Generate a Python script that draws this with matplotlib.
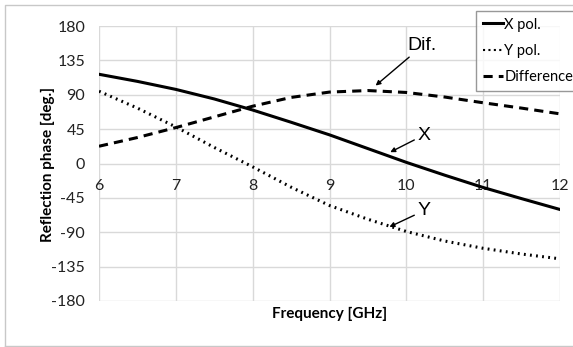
import matplotlib.pyplot as plt
from matplotlib.lines import Line2D

# values
freq = [6, 6.5, 7, 7.5, 8, 8.5, 9, 9.5, 10, 10.5, 11, 11.5, 12]
x_pol = [116.8, 107.5, 97, 84.5, 70, 54, 37.5, 19.5, 1.5, -15.3, -31.4, -46, -60.2]
y_pol = [94.6, 72.5, 47.9, 21, -4.4, -31, -55, -73, -89, -101.5, -111, -118.5, -124.8]
difference = [22.6, 34, 47, 61, 75, 86.5, 93.5, 95.5, 93, 87, 79.5, 72.5, 65]

yticks = [-180, -135, -90, -45, 0, 45, 90, 135, 180]
xticks = [6, 7, 8, 9, 10, 11, 12]

plt.rcParams['font.family'] = ['Lato', 'DejaVu Sans']
plt.rcParams['axes.unicode_minus'] = False

fig = plt.figure(figsize=(5.73, 3.47), dpi=100)
ax = fig.add_axes([99/573, 1-301/347, (560-99)/573, (301-26)/347])

ax.plot(freq, x_pol, color='black', lw=2.2, ls='-', label='X pol.')
ax.plot(freq, y_pol, color='black', lw=2.2, ls=(0, (0.6, 1.4)), label='Y pol.')
ax.plot(freq, difference, color='black', lw=2.2, ls=(0, (3, 2)), label='Difference')

ax.set_xlim(6, 12)
ax.set_ylim(-180, 180)
ax.set_xticks(xticks)
ax.set_yticks(yticks)
ax.grid(True, color='#d9d9d9', lw=1)
ax.set_axisbelow(True)
for s in ['top', 'right', 'left']:
    ax.spines[s].set_visible(False)
ax.spines['bottom'].set_position(('data', 0))
ax.spines['bottom'].set_visible(False)
ax.tick_params(axis='both', length=0, labelsize=11.5, colors='#222222')
ax.tick_params(axis='x', pad=11)
ax.tick_params(axis='y', pad=10)

fig.text(330/573, 1-314/347, 'Frequency [GHz]', ha='center', va='center',
         fontsize=11, fontweight='bold')
fig.text(48/573, 1-164/347, 'Reflection phase [deg.]', ha='center', va='center',
         rotation=90, fontsize=11, fontweight='bold')

# annotations
arrow = dict(arrowstyle='-|>', color='black', lw=1, mutation_scale=7, shrinkA=0, shrinkB=0)
ax.annotate('Dif.', xy=(9.6, 102), xytext=(10.02, 154), fontsize=14,
            ha='left', va='center', arrowprops=arrow,
            family=['Liberation Sans'])
ax.annotate('X', xy=(9.79, 14.8), xytext=(10.14, 37), fontsize=14,
            ha='left', va='center', arrowprops=arrow,
            family=['Liberation Sans'])
ax.annotate('Y', xy=(9.78, -83), xytext=(10.14, -62), fontsize=14,
            ha='left', va='center', arrowprops=arrow,
            family=['Liberation Sans'])

handles = [Line2D([], [], color='black', lw=2.2, ls='-'),
           Line2D([], [], color='black', lw=1.5, ls=(0, (1, 1.6))),
           Line2D([], [], color='black', lw=2.2, ls=(0, (3, 2)))]
leg = fig.legend(handles, ['X pol.', 'Y pol.', 'Difference'],
                 loc='upper left', bbox_to_anchor=(476/573, 1-11/347),
                 fontsize=10.5, handlelength=1.4, handletextpad=0.1,
                 borderpad=0.45, labelspacing=0.85, borderaxespad=0,
                 frameon=True, fancybox=False, edgecolor='#7f7f7f')
leg.get_frame().set_linewidth(1)

# outer chart border
fig.add_artist(Line2D([5/573, 5/573, 1.0], [1-346/347, 1-5/347, 1-5/347],
                      color='#c8c8c8', lw=1, transform=fig.transFigure))
fig.add_artist(Line2D([5/573, 1.0], [1-346/347, 1-346/347],
                      color='#c8c8c8', lw=1, transform=fig.transFigure))

fig.savefig('out.png', dpi=100)
